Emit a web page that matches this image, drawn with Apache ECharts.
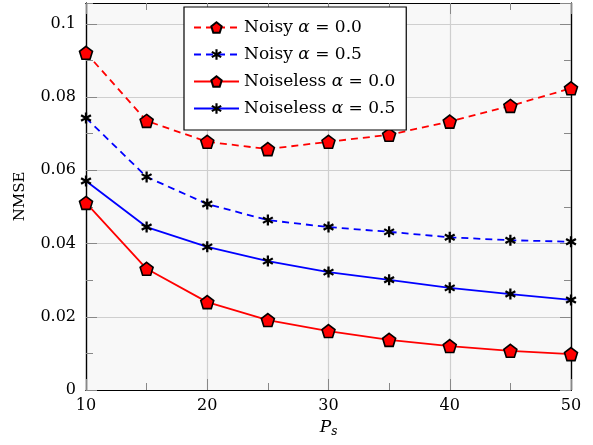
<!DOCTYPE html>
<html>
<head>
<meta charset="utf-8">
<script src="https://cdn.jsdelivr.net/npm/echarts@6/dist/echarts.min.js"></script>
<style>
  html, body { margin: 0; padding: 0; background: #fff; }
  #chart { width: 593px; height: 445px; }
</style>
</head>
<body>
<div id="chart"></div>
<script>
// data
const ps = [10, 15, 20, 25, 30, 35, 40, 45, 50]
const noisyA0 = [0.0921, 0.0735, 0.0678, 0.0658, 0.0678, 0.0697, 0.0733, 0.0776, 0.0824]
const noisyA5 = [0.0743, 0.0582, 0.0508, 0.0464, 0.0445, 0.0432, 0.0417, 0.0409, 0.0405]
const noiselessA0 = [0.0511, 0.0331, 0.0240, 0.0191, 0.0161, 0.0137, 0.0120, 0.0107, 0.0098]
const noiselessA5 = [0.0571, 0.0445, 0.0391, 0.0352, 0.0322, 0.0301, 0.0279, 0.0262, 0.0246]
const seriesNames = ['Noisy α = 0.0', 'Noisy α = 0.5', 'Noiseless α = 0.0', 'Noiseless α = 0.5']

const FONT = 'DejaVu Serif'
const pentagon = 'path://M0,-1L0.951,-0.309L0.588,0.809L-0.588,0.809L-0.951,-0.309Z'
// three bars, same winding so overlaps stay filled
const asterisk = 'path://M-0.2,-1L-0.2,1L0.2,1L0.2,-1Z' +
  'M0.766,0.673L0.966,0.327L-0.766,-0.673L-0.966,-0.327Z' +
  'M0.966,-0.327L0.766,-0.673L-0.966,0.327L-0.766,0.673Z'

const pairs = ys => ps.map((x, i) => [x, ys[i]])

function makeSeries(name, ys, color, dashed, marker) {
  const pent = marker === 'pentagon'
  return {
    name: name,
    type: 'line',
    data: pairs(ys),
    symbol: pent ? pentagon : asterisk,
    symbolSize: pent ? 13 : 11,
    showAllSymbol: true,
    z: pent ? 3 : 4,
    lineStyle: { color: color, width: 1.8, type: dashed ? [7, 5] : 'solid' },
    itemStyle: pent
      ? { color: '#ff0000', borderColor: '#000', borderWidth: 1.6 }
      : { color: '#000', borderWidth: 0 },
    emphasis: { disabled: true },
    animation: false
  }
}

const yMax = 0.1057
const minorTick = { show: true, inside: true, length: 7, lineStyle: { color: '#888' } }
const axisBase = {
  type: 'value',
  axisLine: { show: true, onZero: false, lineStyle: { color: '#000', width: 1.2 } },
  axisTick: { show: true, inside: true, length: 11, lineStyle: { color: '#888' } },
  axisLabel: { show: false },
  splitLine: { show: false }
}

const chart = echarts.init(document.getElementById('chart'), null, { renderer: 'canvas' })
chart.setOption({
  animation: false,
  grid: {
    left: 86, right: 22, top: 3, bottom: 55,
    show: true, backgroundColor: '#f8f8f8', borderWidth: 0
  },
  legend: {
    orient: 'vertical',
    left: 184, top: 7,
    padding: [12, 11, 13, 9],
    itemWidth: 45, itemHeight: 13, itemGap: 10,
    backgroundColor: '#fff', borderColor: '#000', borderWidth: 1.2, borderRadius: 0,
    data: seriesNames,
    formatter: n => n.replace('α', '{i|α}'),
    textStyle: {
      fontFamily: FONT, fontSize: 17, color: '#000',
      rich: { i: { fontFamily: FONT, fontStyle: 'italic', fontSize: 17, color: '#000' } }
    }
  },
  xAxis: [
    Object.assign({}, axisBase, {
      position: 'bottom', min: 10, max: 50, interval: 10,
      name: '{p|P}{s|s}', nameLocation: 'middle', nameGap: 28,
      nameTextStyle: {
        rich: {
          p: { fontFamily: FONT, fontStyle: 'italic', fontSize: 17, color: '#000' },
          s: { fontFamily: FONT, fontStyle: 'italic', fontSize: 12, color: '#000', padding: [8, 0, 0, 0] }
        }
      },
      axisLabel: { show: true, margin: 8, fontFamily: FONT, fontSize: 16, color: '#000' },
      splitLine: { show: true, lineStyle: { color: '#cfcfcf', width: 1.2 } }
    }),
    Object.assign({}, axisBase, { position: 'bottom', min: 10, max: 50, interval: 5, axisTick: minorTick }),
    Object.assign({}, axisBase, { position: 'top', min: 10, max: 50, interval: 10 }),
    Object.assign({}, axisBase, { position: 'top', min: 10, max: 50, interval: 5, axisTick: minorTick })
  ],
  yAxis: [
    Object.assign({}, axisBase, {
      position: 'left', min: 0, max: yMax, interval: 0.02,
      name: 'NMSE', nameLocation: 'middle', nameGap: 58,
      nameTextStyle: { fontFamily: FONT, fontSize: 15, color: '#000' },
      axisLabel: {
        show: true, margin: 10, fontFamily: FONT, fontSize: 16, color: '#000',
        showMaxLabel: false,
        formatter: v => String(+v.toFixed(2))
      },
      splitLine: { show: true, lineStyle: { color: '#cfcfcf', width: 1.2 } }
    }),
    Object.assign({}, axisBase, { position: 'left', min: 0, max: yMax, interval: 0.01, axisTick: minorTick }),
    Object.assign({}, axisBase, { position: 'right', min: 0, max: yMax, interval: 0.02 }),
    Object.assign({}, axisBase, { position: 'right', min: 0, max: yMax, interval: 0.01, axisTick: minorTick })
  ],
  series: [
    makeSeries(seriesNames[0], noisyA0, '#ff0000', true, 'pentagon'),
    makeSeries(seriesNames[1], noisyA5, '#0000ff', true, 'asterisk'),
    makeSeries(seriesNames[2], noiselessA0, '#ff0000', false, 'pentagon'),
    makeSeries(seriesNames[3], noiselessA5, '#0000ff', false, 'asterisk')
  ]
})
</script>
</body>
</html>
